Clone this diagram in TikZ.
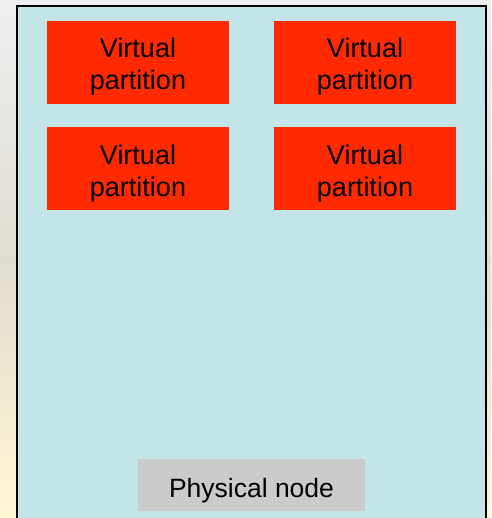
\documentclass[tikz,border=0pt]{standalone}
\usepackage{fontspec}
\setmainfont{Liberation Sans}
\usetikzlibrary{positioning}
\definecolor{boxblue}{HTML}{C4E5E8}
\definecolor{vpred}{HTML}{FF2A00}
\definecolor{pngray}{HTML}{CBCBCB}
\definecolor{skytop}{HTML}{EDEFF0}
\definecolor{skymid}{HTML}{E0DCD0}
\definecolor{skybot}{HTML}{FFF7D2}
\begin{document}
\begin{tikzpicture}[x=1pt,y=1pt]
	\tikzstyle{every node}=[font=\fontsize{27}{32}\selectfont]
	\tikzset{vpart/.style={fill=vpred, minimum width=182pt, minimum height=83pt, align=center, inner sep=0pt, text height=55pt, text depth=0pt},
		pnode/.style={fill=pngray, minimum width=227pt, minimum height=52pt, inner sep=0pt, text height=24pt, text depth=0pt, font=\fontsize{26.5}{32}\selectfont}}
	\useasboundingbox (0,0) rectangle (491,-518);
	% background
	\shade [top color=skytop, bottom color=skybot, middle color=skymid] (0,0) rectangle (491,-518);
	% physical node box
	\fill [boxblue] (17,-6) rectangle (486,-518);
	\draw [line width=2.2pt, line cap=rect] (17,-518) -- (17,-6) -- (486,-6) -- (486,-518);
	\node [vpart] (vp1) at (138,-62.5) {Virtual\\partition};
	\node [vpart] (vp2) at (365,-62.5) {Virtual\\partition};
	\node [vpart] (vp3) at (138,-169) {Virtual\\partition};
	\node [vpart] (vp4) at (365,-169) {Virtual\\partition};
	\node [pnode] (pn) at (251.5,-485) {Physical node};
\end{tikzpicture}
\end{document}
